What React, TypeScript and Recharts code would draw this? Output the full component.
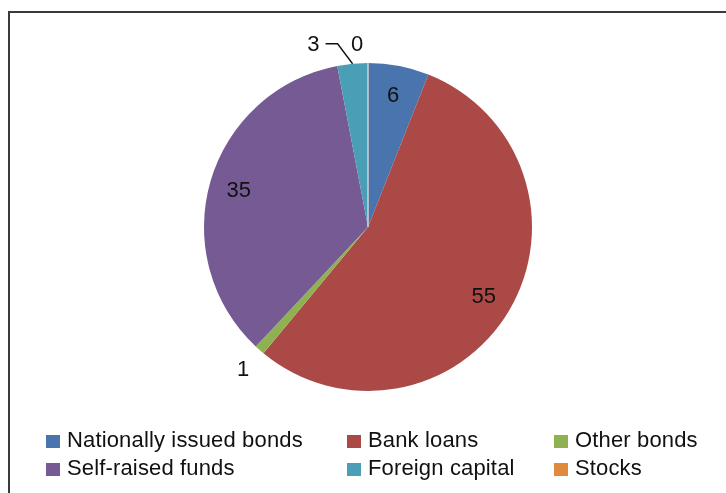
import React from 'react';
import { PieChart, Pie, Cell } from 'recharts';

const categories = [
  'Nationally issued bonds',
  'Bank loans',
  'Other bonds',
  'Self-raised funds',
  'Foreign capital',
  'Stocks',
];
const shares = [6, 55, 1, 35, 3, 0];
const colors = ['#4a74ad', '#ab4946', '#8fb151', '#755a93', '#4a9fb6', '#e08a3e'];
// legend reads row by row, three to a row
const legendOrder = [0, 1, 2, 3, 4, 5];

const FONT = '"Liberation Sans", Arial, Helvetica, sans-serif';
const RAD = Math.PI / 180;

const data = categories.map((name, i) => ({ name, value: shares[i] }));

const polar = (cx: number, cy: number, r: number, angle: number) => ({
  x: cx + r * Math.cos(-angle * RAD),
  y: cy + r * Math.sin(-angle * RAD),
});

const renderLabel = (props: any) => {
  const { cx, cy, midAngle, outerRadius, index, value } = props;
  const textProps = {
    fontSize: 22,
    fontFamily: FONT,
    fill: '#111',
    dominantBaseline: 'central' as const,
  };

  // big slices: label sits inside
  if (value >= 5) {
    const p = polar(cx, cy, outerRadius * 0.82, midAngle);
    return (
      <text x={p.x} y={p.y} textAnchor="middle" {...textProps}>
        {value}
      </text>
    );
  }

  // stocks: zero slice, only a hairline and its label
  if (value === 0) {
    const edge = polar(cx, cy, outerRadius, midAngle);
    const p = polar(cx, cy, outerRadius + 20, midAngle);
    return (
      <g>
        <line x1={cx} y1={cy} x2={edge.x} y2={edge.y} stroke="#cfd3d8" strokeWidth={1.5} />
        <text x={p.x - 11} y={p.y} textAnchor="middle" {...textProps}>
          {value}
        </text>
      </g>
    );
  }

  // foreign capital: pushed left with a leader line
  if (index === 4) {
    const edge = polar(cx, cy, outerRadius, midAngle);
    const p = polar(cx, cy, outerRadius + 20, midAngle);
    const elbowX = edge.x - 15;
    return (
      <g>
        <polyline
          points={`${edge.x - 27},${p.y} ${elbowX},${p.y} ${edge.x},${edge.y}`}
          fill="none"
          stroke="#111"
          strokeWidth={1.4}
        />
        <text x={edge.x - 33} y={p.y} textAnchor="end" {...textProps}>
          {value}
        </text>
      </g>
    );
  }

  const p = polar(cx, cy, outerRadius + 25, midAngle);
  return (
    <text x={p.x} y={p.y} textAnchor="middle" {...textProps}>
      {value}
    </text>
  );
};

const legendCols = [38, 339, 546];

const LegendBlock: React.FC = () => (
  <div style={{ position: 'absolute', left: 0, top: 418, width: 710, fontFamily: FONT, fontSize: 22, letterSpacing: 0.15, color: '#111' }}>
    {legendOrder.map((i, k) => (
      <div
        key={categories[i]}
        style={{
          position: 'absolute',
          left: legendCols[k % 3],
          top: Math.floor(k / 3) * 28,
          height: 28,
          lineHeight: '28px',
          display: 'flex',
          alignItems: 'center',
          whiteSpace: 'nowrap',
        }}
      >
        <span style={{ display: 'inline-block', width: 14, height: 13, marginTop: 3, marginRight: 7, background: colors[i] }} />
        <span>{categories[i]}</span>
      </div>
    ))}
  </div>
);

const App: React.FC = () => {
  return (
    <div style={{ position: 'relative', width: 710, height: 478 }}>
      <div
        style={{
          position: 'fixed',
          left: 8,
          top: 11,
          width: 800,
          height: 600,
          borderTop: '2px solid #3a3a3a',
          borderLeft: '2px solid #3a3a3a',
          pointerEvents: 'none',
        }}
      />
      <PieChart width={710} height={478} margin={{ top: 0, right: 0, bottom: 0, left: 0 }}>
        <Pie
          data={data}
          dataKey="value"
          nameKey="name"
          cx={360}
          cy={219}
          outerRadius={164}
          startAngle={90}
          endAngle={-270}
          stroke="none"
          label={renderLabel}
          labelLine={false}
          isAnimationActive={false}
        >
          {data.map((d, i) => (
            <Cell key={d.name} fill={colors[i]} />
          ))}
        </Pie>
      </PieChart>
      <LegendBlock />
    </div>
  );
};

export default App;
